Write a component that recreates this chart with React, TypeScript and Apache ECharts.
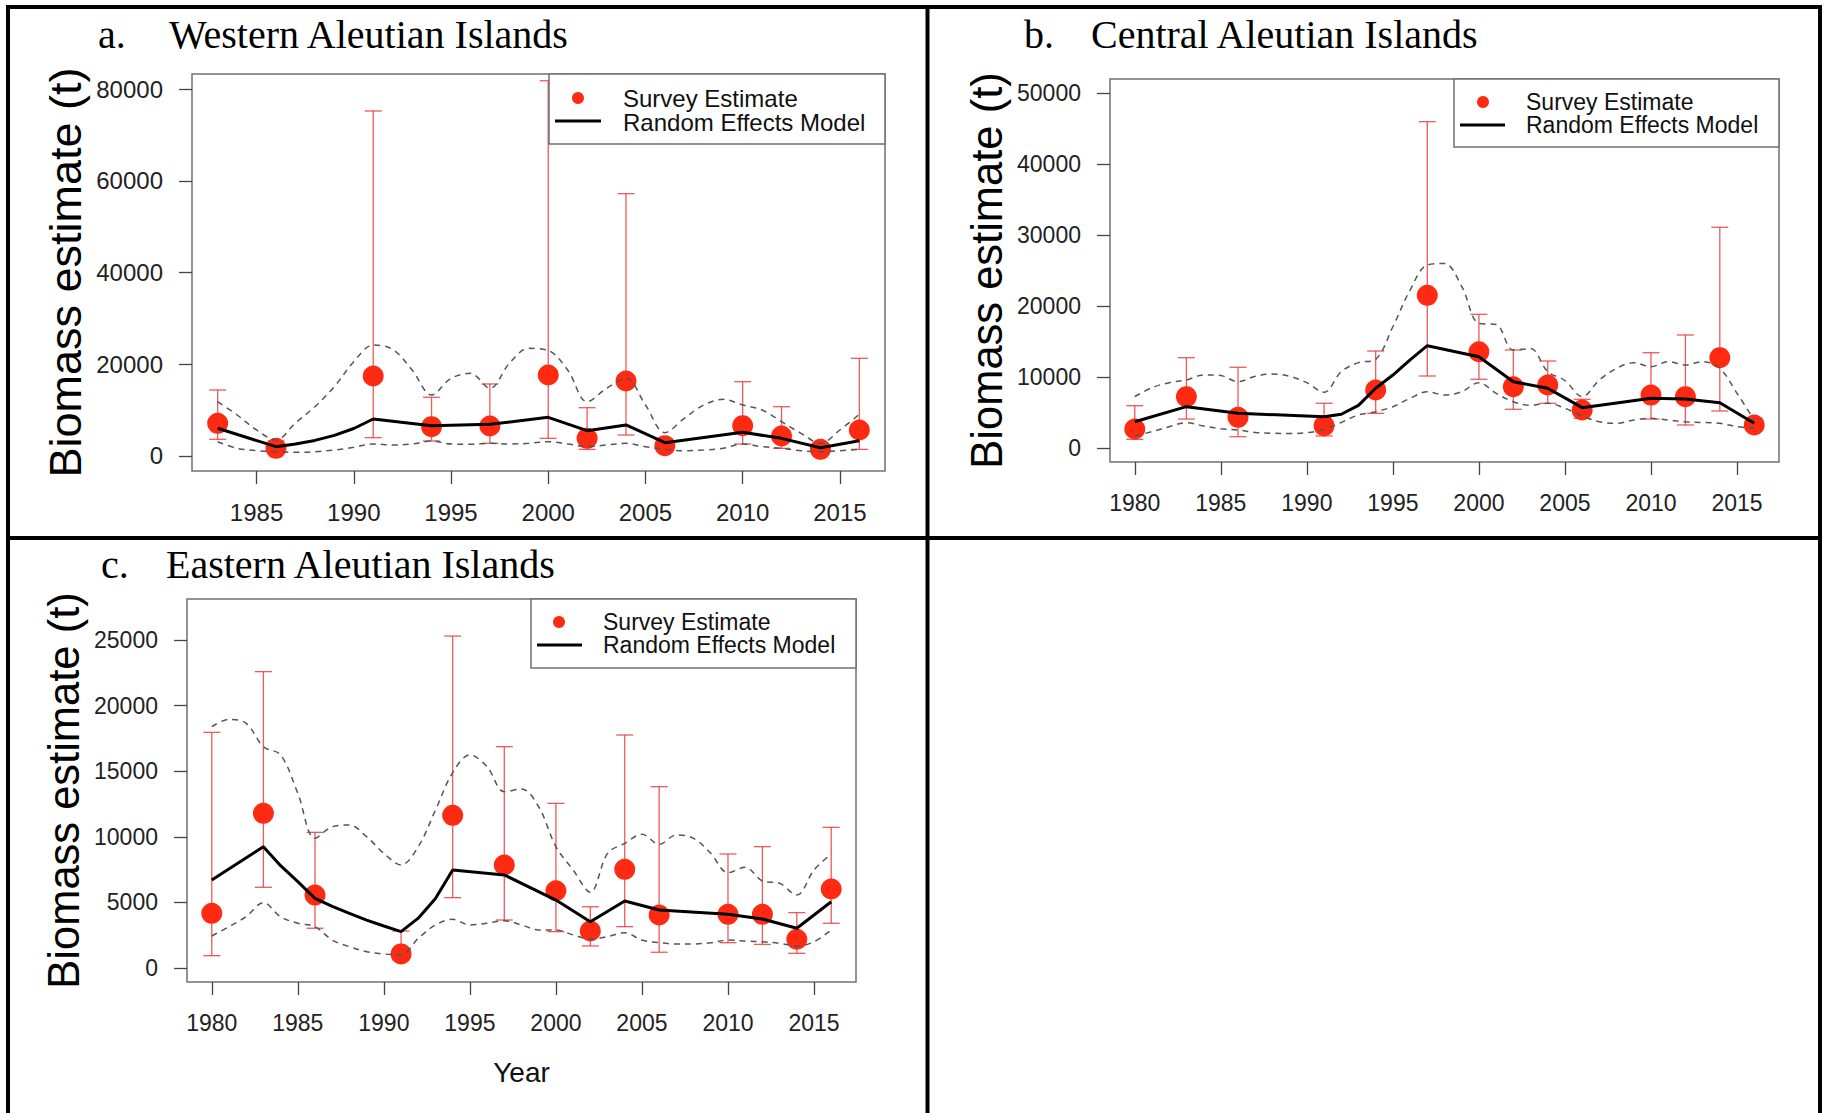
import React, { useEffect, useRef } from "react";
import * as echarts from "echarts";

// ---------------- DATA ----------------
// Panel a: Western Aleutian Islands
const surveyYearsA = [1983, 1986, 1991, 1994, 1997, 2000, 2002, 2004, 2006, 2010, 2012, 2014, 2016];
const surveyA = [7130, 1670, 17440, 6390, 6540, 17660, 3850, 16350, 2250, 6610, 4360, 1450, 5670];
const errLowA = [3640, 1000, 3990, 3270, 2760, 3850, 1450, 4580, 1350, 2620, 1670, 900, 1450];
const errHighA = [14390, 3300, 75210, 12800, 15700, 81800, 10530, 57190, 3700, 16200, 10750, 2600, 21300];
const modelYearsA = [1983, 1986, 1987, 1988, 1989, 1990, 1991, 1994, 1997, 2000, 2002, 2004, 2006, 2010, 2012, 2014, 2016];
const modelA = [6040, 2030, 2600, 3400, 4500, 6000, 8070, 6610, 6900, 8430, 5520, 6760, 2900, 5160, 3850, 1810, 3340];
const ciYearsA = [1983, 1984, 1985, 1986, 1987, 1988, 1989, 1990, 1991, 1992, 1993, 1994, 1995, 1996, 1997, 1998, 1999, 2000, 2001, 2002, 2003, 2004, 2005, 2006, 2007, 2008, 2009, 2010, 2011, 2012, 2013, 2014, 2015, 2016];
const ciUpperA = [11840, 8940, 5670, 3490, 7190, 10750, 15110, 20560, 24200, 23230, 18750, 13300, 16930, 18020, 14750, 20200, 23470, 23000, 18750, 11840, 14750, 16930, 11120, 5090, 8210, 11120, 12350, 11120, 10030, 7480, 4940, 2760, 5670, 9090];
const ciLowerA = [3120, 1670, 1160, 940, 800, 940, 1310, 1890, 2620, 2400, 2620, 3270, 2620, 2540, 2760, 2620, 2760, 3120, 2620, 2030, 2400, 2760, 2030, 1450, 1160, 1310, 1670, 2620, 2030, 1670, 1160, 940, 1160, 1450];

// Panel b: Central Aleutian Islands
const surveyYearsB = [1980, 1983, 1986, 1991, 1994, 1997, 2000, 2002, 2004, 2006, 2010, 2012, 2014, 2016];
const surveyB = [2680, 7230, 4320, 3140, 8170, 21500, 13560, 8630, 8870, 5350, 7460, 7230, 12720, 3240];
const errLowB = [1220, 4080, 1590, 1690, 4880, 10140, 9680, 5450, 6300, 4180, 4080, 3240, 5210, 2540];
const errHighB = [5960, 12720, 11370, 6300, 13660, 45960, 18830, 13800, 12250, 6860, 13420, 15920, 31090, 4180];
const modelYearsB = [1980, 1983, 1986, 1991, 1992, 1993, 1994, 1995, 1996, 1997, 2000, 2002, 2004, 2006, 2010, 2012, 2014, 2016];
const modelB = [3700, 5820, 4880, 4410, 4750, 6000, 8410, 10280, 12400, 14410, 12860, 9340, 8410, 5680, 7000, 6900, 6380, 3480];
const ciYearsB = [1980, 1981, 1982, 1983, 1984, 1985, 1986, 1987, 1988, 1989, 1990, 1991, 1992, 1993, 1994, 1995, 1996, 1997, 1998, 1999, 2000, 2001, 2002, 2003, 2004, 2005, 2006, 2007, 2008, 2009, 2010, 2011, 2012, 2013, 2014, 2015, 2016];
const ciUpperB = [7230, 8500, 9200, 9580, 10300, 10200, 9340, 10100, 10420, 10100, 9200, 7850, 10750, 12020, 12490, 17080, 22250, 25780, 25990, 22770, 17560, 17400, 13800, 14000, 10750, 9500, 7230, 9580, 11220, 12020, 11450, 12160, 11690, 12160, 11220, 7700, 3940];
const ciLowerB = [1690, 2300, 3000, 3570, 3100, 2700, 2540, 2200, 2070, 2050, 2150, 2630, 3600, 4650, 5110, 5820, 7000, 7930, 7460, 7930, 9200, 7700, 6520, 6000, 6300, 5590, 4510, 3700, 3480, 3940, 4180, 3940, 3700, 3590, 3480, 3000, 2770];

// Panel c: Eastern Aleutian Islands
const surveyYearsC = [1980, 1983, 1986, 1991, 1994, 1997, 2000, 2002, 2004, 2006, 2010, 2012, 2014, 2016];
const surveyC = [4170, 11790, 5560, 1070, 11640, 7850, 5890, 2820, 7520, 4040, 4090, 4090, 2190, 6020];
const errLowC = [940, 6150, 3030, 610, 5360, 3660, 2770, 1680, 3150, 1200, 1930, 1800, 1120, 3410];
const errHighC = [17960, 22590, 10340, 2820, 25300, 16870, 12550, 4670, 17760, 13820, 8690, 9250, 4220, 10720];
const modelYearsC = [1980, 1983, 1984, 1985, 1986, 1987, 1988, 1989, 1990, 1991, 1992, 1993, 1994, 1997, 2000, 2002, 2004, 2006, 2010, 2012, 2014, 2016];
const modelC = [6710, 9250, 7800, 6580, 5310, 4700, 4170, 3650, 3200, 2770, 3800, 5300, 7470, 7090, 5180, 3530, 5110, 4420, 4090, 3730, 3030, 5050];
const ciYearsC = [1980, 1981, 1982, 1983, 1984, 1985, 1986, 1987, 1988, 1989, 1990, 1991, 1992, 1993, 1994, 1995, 1996, 1997, 1998, 1999, 2000, 2001, 2002, 2003, 2004, 2005, 2006, 2007, 2008, 2009, 2010, 2011, 2012, 2013, 2014, 2015, 2016];
const ciUpperC = [18390, 18950, 18650, 16870, 16240, 13320, 9890, 10770, 10900, 10010, 8740, 7850, 9250, 12040, 14890, 16240, 15340, 13440, 13640, 12290, 9250, 7470, 5770, 8740, 9500, 10190, 9430, 10140, 9880, 8740, 7260, 7680, 6630, 6460, 5560, 7470, 8690];
const ciLowerC = [2440, 3150, 3910, 4980, 3910, 3410, 3150, 2130, 1620, 1240, 1070, 990, 2260, 3280, 3710, 3280, 3410, 3610, 3280, 2900, 2900, 2520, 2210, 2390, 2690, 2130, 1930, 1830, 1830, 1930, 2130, 2050, 2000, 1880, 1680, 2000, 2900];

// Tick labels
const xTicksA = [1985, 1990, 1995, 2000, 2005, 2010, 2015];
const xTicksBC = [1980, 1985, 1990, 1995, 2000, 2005, 2010, 2015];
const yTicksA = [0, 20000, 40000, 60000, 80000];
const yTicksB = [0, 10000, 20000, 30000, 40000, 50000];
const yTicksC = [0, 5000, 10000, 15000, 20000, 25000];

const panelLetters = ["a.", "b.", "c."];
const panelTitles = ["Western Aleutian Islands", "Central Aleutian Islands", "Eastern Aleutian Islands"];
const legendLabels = ["Survey Estimate", "Random Effects Model"];
const yAxisTitle = "Biomass estimate (t)";
const xAxisTitle = "Year";

// ---------------- STYLE / LAYOUT ----------------
const SANS = '"Liberation Sans", Arial, Helvetica, sans-serif';
const SERIF = '"Liberation Serif", "Times New Roman", Times, serif';
const RED = "#fe2a12";
const ERR = "rgba(236, 60, 60, 0.85)";
const DASH = "#555555";
const BOX = "#707070";
const TITLE_SIZE = 40;

const zip = (xs: number[], ys: number[]) => xs.map((x, i) => [x, ys[i]]);

const panels = [
  {
    grid: { left: 192, top: 74, width: 693, height: 397 },
    xMin: 1981.68, xMax: 2017.32, yMin: -3270, yMax: 83270,
    xTicks: xTicksA, yTicks: yTicksA, tickFont: 24, nameFont: 45, nameGap: 104,
    legend: { x: 549, y: 74, w: 336, h: 70, dotX: 578, dotY: 98, l1: 555, l2: 601, lY: 121, tX: 623, t1: 98, t2: 122, font: 24 },
    title: { lx: 98, tx: 169, y: 34 },
    years: surveyYearsA, survey: surveyA, lo: errLowA, hi: errHighA,
    mYears: modelYearsA, model: modelA, ciYears: ciYearsA, up: ciUpperA, low: ciLowerA, xName: false,
  },
  {
    grid: { left: 1110, top: 79, width: 669, height: 383 },
    xMin: 1978.56, xMax: 2017.44, yMin: -1972, yMax: 51972,
    xTicks: xTicksBC, yTicks: yTicksB, tickFont: 23, nameFont: 43.5, nameGap: 101,
    legend: { x: 1454, y: 79, w: 325, h: 68, dotX: 1483, dotY: 102, l1: 1460, l2: 1505, lY: 125, tX: 1526, t1: 102, t2: 125, font: 23 },
    title: { lx: 1024, tx: 1091, y: 34 },
    years: surveyYearsB, survey: surveyB, lo: errLowB, hi: errHighB,
    mYears: modelYearsB, model: modelB, ciYears: ciYearsB, up: ciUpperB, low: ciLowerB, xName: false,
  },
  {
    grid: { left: 187, top: 599, width: 669, height: 383 },
    xMin: 1978.56, xMax: 2017.44, yMin: -1067, yMax: 28125,
    xTicks: xTicksBC, yTicks: yTicksC, tickFont: 23, nameFont: 43.5, nameGap: 101,
    legend: { x: 531, y: 599, w: 325, h: 69, dotX: 559, dotY: 622, l1: 537, l2: 582, lY: 645, tX: 603, t1: 622, t2: 645, font: 23 },
    title: { lx: 101, tx: 166, y: 564 },
    years: surveyYearsC, survey: surveyC, lo: errLowC, hi: errHighC,
    mYears: modelYearsC, model: modelC, ciYears: ciYearsC, up: ciUpperC, low: ciLowerC, xName: true,
  },
];

function buildOption() {
  const grid: any[] = [];
  const xAxis: any[] = [];
  const yAxis: any[] = [];
  const series: any[] = [];
  const graphic: any[] = [];

  panels.forEach((p, i) => {
    grid.push({
      ...p.grid,
      show: true,
      borderColor: BOX,
      borderWidth: 1.5,
      backgroundColor: "transparent",
      containLabel: false,
      outerBoundsMode: "none",
    });
    xAxis.push({
      gridIndex: i,
      type: "value",
      min: p.xMin,
      max: p.xMax,
      axisLine: { show: false, onZero: false },
      splitLine: { show: false },
      axisTick: { show: true, customValues: p.xTicks, length: 13, lineStyle: { color: "#444", width: 1.3 } },
      axisLabel: {
        customValues: p.xTicks,
        fontSize: p.tickFont,
        fontFamily: SANS,
        color: "#222",
        margin: 29,
        formatter: (v: number) => String(v),
      },
      name: p.xName ? xAxisTitle : "",
      nameLocation: "middle",
      nameGap: 76,
      nameTextStyle: { fontSize: 28, fontFamily: SANS, color: "#111" },
    });
    yAxis.push({
      gridIndex: i,
      type: "value",
      min: p.yMin,
      max: p.yMax,
      axisLine: { show: false, onZero: false },
      splitLine: { show: false },
      axisTick: { show: true, customValues: p.yTicks, length: 13, lineStyle: { color: "#444", width: 1.3 } },
      axisLabel: {
        customValues: p.yTicks,
        fontSize: p.tickFont,
        fontFamily: SANS,
        color: "#222",
        margin: 29,
        formatter: (v: number) => String(v),
      },
      name: yAxisTitle,
      nameLocation: "middle",
      nameRotate: 90,
      nameGap: p.nameGap,
      nameTextStyle: { fontSize: p.nameFont, fontFamily: SANS, color: "#000" },
    });

    const common = { xAxisIndex: i, yAxisIndex: i, silent: true, animation: false };
    series.push({
      ...common,
      name: "Survey Estimate",
      type: "scatter",
      data: zip(p.years, p.survey),
      symbol: "circle",
      symbolSize: 21,
      itemStyle: { color: RED, opacity: 1 },
      z: 3,
    });
    series.push({
      ...common,
      name: "Survey error",
      type: "custom",
      data: p.years.map((y, k) => [y, p.lo[k], p.hi[k]]),
      renderItem: (params: any, api: any) => {
        const x = api.value(0);
        const a = api.coord([x, api.value(1)]);
        const b = api.coord([x, api.value(2)]);
        const w = 8.5;
        const st = { stroke: ERR, lineWidth: 1.3, fill: null };
        return {
          type: "group",
          children: [
            { type: "line", shape: { x1: a[0], y1: a[1], x2: b[0], y2: b[1] }, style: st },
            { type: "line", shape: { x1: a[0] - w, y1: a[1], x2: a[0] + w, y2: a[1] }, style: st },
            { type: "line", shape: { x1: b[0] - w, y1: b[1], x2: b[0] + w, y2: b[1] }, style: st },
          ],
        };
      },
      z: 2,
    });
    const dashStyle = { color: DASH, width: 1.5, type: [6, 5] };
    series.push({
      ...common,
      name: "Upper bound",
      type: "line",
      data: zip(p.ciYears, p.up),
      smooth: 0.35,
      showSymbol: false,
      symbol: "none",
      lineStyle: dashStyle,
      z: 4,
    });
    series.push({
      ...common,
      name: "Lower bound",
      type: "line",
      data: zip(p.ciYears, p.low),
      smooth: 0.35,
      showSymbol: false,
      symbol: "none",
      lineStyle: dashStyle,
      z: 4,
    });
    series.push({
      ...common,
      name: "Random Effects Model",
      type: "line",
      data: zip(p.mYears, p.model),
      showSymbol: false,
      symbol: "none",
      lineStyle: { color: "#000", width: 3 },
      z: 5,
    });

    // Legend box (R-style, attached to top-right corner of the plot)
    const L = p.legend;
    graphic.push({
      type: "rect",
      shape: { x: L.x, y: L.y, width: L.w, height: L.h },
      style: { fill: "#fff", stroke: BOX, lineWidth: 1.5 },
      z: 10,
    });
    graphic.push({ type: "circle", shape: { cx: L.dotX, cy: L.dotY, r: 6 }, style: { fill: RED }, z: 11 });
    graphic.push({
      type: "line",
      shape: { x1: L.l1, y1: L.lY, x2: L.l2, y2: L.lY },
      style: { stroke: "#000", lineWidth: 3 },
      z: 11,
    });
    const lh = L.t2 - L.t1;
    graphic.push({
      type: "text",
      x: L.tX,
      y: (L.t1 + L.t2) / 2,
      style: {
        text: legendLabels.join("\n"),
        fontSize: L.font,
        lineHeight: lh,
        fontFamily: SANS,
        fill: "#111",
        textAlign: "left",
        textVerticalAlign: "middle",
      },
      z: 11,
    });

    // Panel title
    graphic.push({
      type: "text",
      x: p.title.lx,
      y: p.title.y,
      style: { text: panelLetters[i], fontSize: TITLE_SIZE, fontFamily: SERIF, fill: "#000", textAlign: "left", textVerticalAlign: "middle" },
    });
    graphic.push({
      type: "text",
      x: p.title.tx,
      y: p.title.y,
      style: { text: panelTitles[i], fontSize: TITLE_SIZE, fontFamily: SERIF, fill: "#000", textAlign: "left", textVerticalAlign: "middle" },
    });
  });

  // Outer frame and panel dividers
  const frame = { stroke: "#000", lineWidth: 4 };
  graphic.push({ type: "line", shape: { x1: 6, y1: 7, x2: 1822, y2: 7 }, style: frame, z: 20 });
  graphic.push({ type: "line", shape: { x1: 8, y1: 5, x2: 8, y2: 1113 }, style: frame, z: 20 });
  graphic.push({ type: "line", shape: { x1: 1820, y1: 5, x2: 1820, y2: 1113 }, style: frame, z: 20 });
  graphic.push({ type: "line", shape: { x1: 927.5, y1: 5, x2: 927.5, y2: 1113 }, style: frame, z: 20 });
  graphic.push({ type: "line", shape: { x1: 6, y1: 538, x2: 1822, y2: 538 }, style: frame, z: 20 });

  return {
    animation: false,
    backgroundColor: "#ffffff",
    grid,
    xAxis,
    yAxis,
    series,
    graphic,
  };
}

export default function App() {
  const ref = useRef<HTMLDivElement>(null);
  useEffect(() => {
    if (!ref.current) return;
    const chart = echarts.init(ref.current, null, { renderer: "svg" });
    chart.setOption(buildOption() as any);
    return () => chart.dispose();
  }, []);
  return (
    <div
      ref={ref}
      style={{ position: "fixed", left: 0, top: 0, width: 1824, height: 1113, background: "#fff" }}
    />
  );
}
